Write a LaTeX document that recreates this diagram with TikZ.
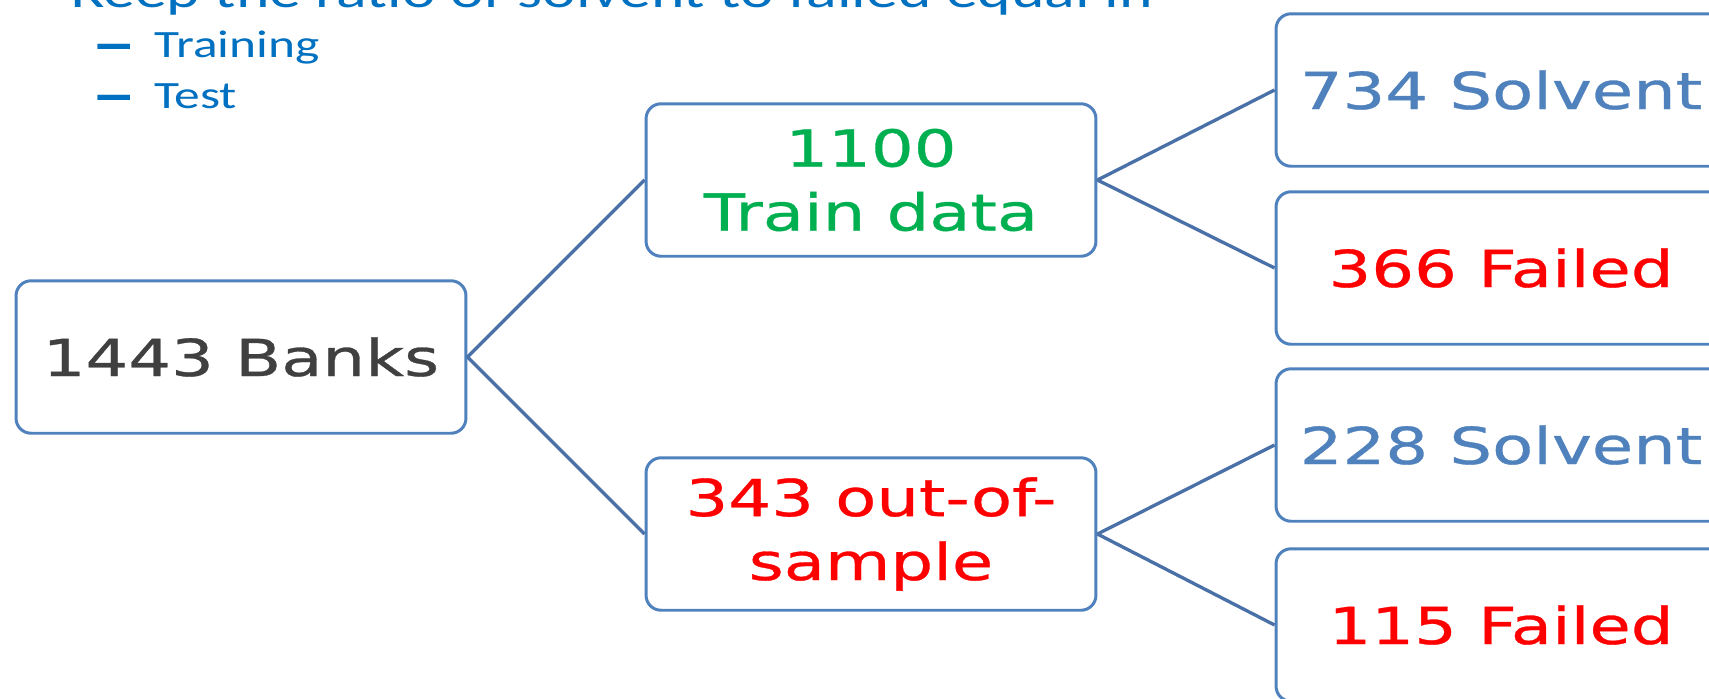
\documentclass[tikz,border=0pt]{standalone}
\usepackage{fontspec}
\usepackage{graphicx}
\setmainfont[FakeStretch=1.33]{Carlito}
\newfontfamily\wideboxfont[FakeStretch=1.32,FakeBold=0.6]{DejaVu Sans}
\definecolor{boxblue}{RGB}{79,129,189}
\definecolor{linkblue}{RGB}{74,112,168}
\definecolor{bulletblue}{RGB}{0,112,192}
\definecolor{okgreen}{RGB}{0,176,80}
\definecolor{badred}{RGB}{255,0,0}
\definecolor{darkgray}{RGB}{64,64,64}
\tikzset{
  blk/.style={draw=boxblue,line width=1.7pt,rounded corners=0.3cm,fill=white,
    minimum width=9.0cm,minimum height=3.05cm,inner sep=0pt,align=center,
    font=\wideboxfont\fontsize{29}{36.4}\selectfont},
  link/.style={draw=linkblue,line width=1.9pt},
  bul/.style={anchor=base west,inner sep=0pt,text=bulletblue,font=\fontsize{22}{27}\selectfont},
  dsh/.style={bul,font=\wideboxfont\bfseries\fontsize{22}{27}\selectfont}
}
\begin{document}
\begin{tikzpicture}[x=0.02cm,y=-0.02cm]
        \clip (0,0) rectangle (1709,698);
        %% Heading and bullets
        \node[bul,font=\fontsize{27.3}{33}\selectfont] (K) at (71,7) {Keep the ratio of solvent to failed equal in};
        \node[dsh] (d1) at (93,57) {\scalebox{1.6}[1]{–}};
        \node[bul] (t1) at (154,57) {Training};
        \node[dsh] (d2) at (93,108) {\scalebox{1.6}[1]{–}};
        \node[bul] (t2) at (154,108) {Test};
        %% Blocks
        \node[blk,text=darkgray] (A) at (241,357) {1443 Banks};
        \node[blk,text=okgreen] (B) at (871,180) {1100\\Train data};
        \node[blk,text=badred] (C) at (871,534) {343 out-of-\\sample};
        \node[blk,text=boxblue] (D) at (1501,90) {734 Solvent};
        \node[blk,text=badred] (E) at (1501,268) {366 Failed};
        \node[blk,text=boxblue] (F) at (1501,445) {228 Solvent};
        \node[blk,text=badred] (G) at (1501,625) {115 Failed};
        %% Links
        \draw[link] (A.east) -- (B.west);
        \draw[link] (A.east) -- (C.west);
        \draw[link] (B.east) -- (D.west);
        \draw[link] (B.east) -- (E.west);
        \draw[link] (C.east) -- (F.west);
        \draw[link] (C.east) -- (G.west);
    \end{tikzpicture}
\end{document}
